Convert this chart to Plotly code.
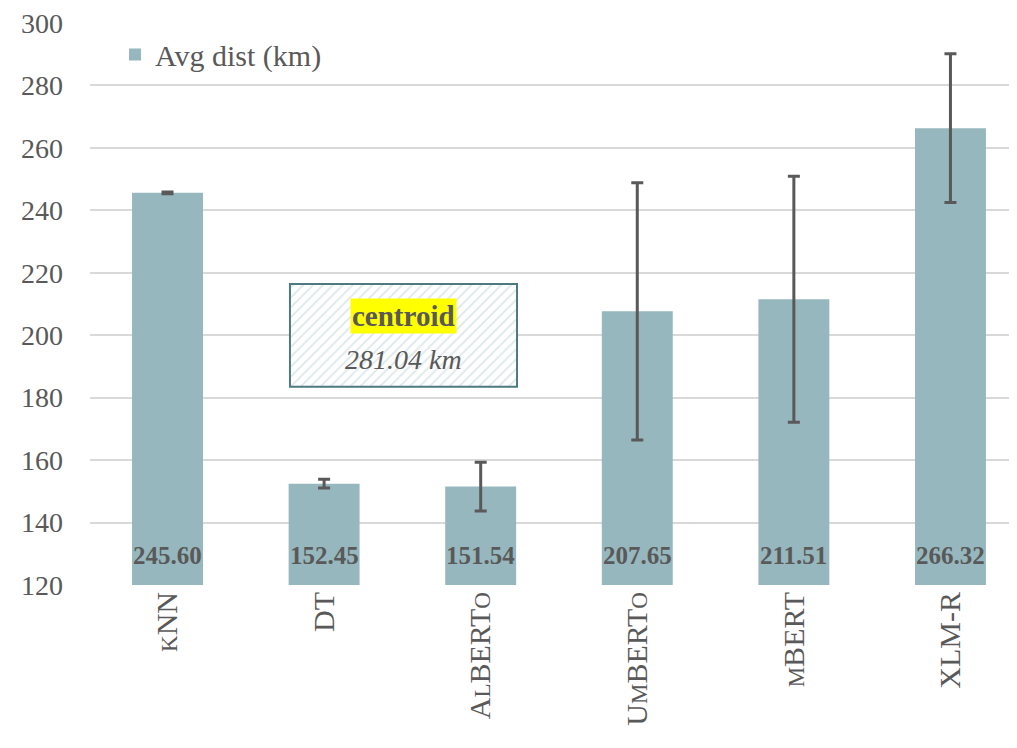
import plotly.graph_objects as go

categories = ["kNN", "DT", "AlBERTo", "UmBERTo", "mBERT", "XLM-R"]
SC = "<span style='font-size:23px'>{}</span>"
tick_labels = [
    SC.format("K") + "NN",
    "DT",
    "A" + SC.format("L") + "BERT" + SC.format("O"),
    "U" + SC.format("M") + "BERT" + SC.format("O"),
    SC.format("M") + "BERT",
    "XLM-R",
]
avg_dist = [245.60, 152.45, 151.54, 207.65, 211.51, 266.32]
err = [0.3, 1.4, 7.8, 41.2, 39.4, 23.8]
value_labels = ["245.60", "152.45", "151.54", "207.65", "211.51", "266.32"]
axis_min = 120

centroid_label = "centroid"
centroid_value = "281.04 km"

GREY = "#595959"
BAR = "#96b7bd"
FONT = "Liberation Serif"

x_idx = list(range(len(categories)))

fig = go.Figure()

# callout box (hatched) drawn behind
fig.add_trace(go.Bar(
    x=[1.507], y=[32.9], base=[183.5], width=[1.45],
    marker=dict(color="white",
                pattern=dict(shape="/", fgcolor="#b9cfd4", bgcolor="white", size=7, solidity=0.25),
                line=dict(color="#4d7a80", width=2)),
    showlegend=False, hoverinfo="skip",
))

fig.add_trace(go.Bar(
    x=x_idx, y=avg_dist, width=0.453,
    name="Avg dist (km)",
    marker=dict(color=BAR, line=dict(width=0)),
    error_y=dict(type="data", array=err, visible=True, color=GREY, thickness=3, width=6),
    hoverinfo="x+y",
))

for xi, lab in zip(x_idx, value_labels):
    fig.add_annotation(x=xi, y=axis_min, xref="x", yref="y", text="<b>" + lab + "</b>",
                       showarrow=False, yanchor="bottom", yshift=14,
                       font=dict(family=FONT, size=25, color=GREY))

fig.add_annotation(x=1.507, y=206.2, xref="x", yref="y",
                   text="<b>" + centroid_label + "</b>", showarrow=False,
                   font=dict(family=FONT, size=29, color=GREY),
                   bgcolor="#ffff00", borderpad=1)
fig.add_annotation(x=1.507, y=192.3, xref="x", yref="y",
                   text="<i>" + centroid_value + "</i>", showarrow=False,
                   font=dict(family=FONT, size=28, color=GREY))

fig.update_layout(
    width=1009, height=740,
    margin=dict(l=82, r=0, t=13, b=163),
    paper_bgcolor="white", plot_bgcolor="white",
    barmode="overlay",
    font=dict(family=FONT, color=GREY),
    legend=dict(x=0.027, y=0.99, xanchor="left", yanchor="top",
                font=dict(family=FONT, size=30, color=GREY),
                bgcolor="rgba(0,0,0,0)"),
    xaxis=dict(range=[-0.495, 5.425], tickmode="array", tickvals=x_idx, ticktext=tick_labels,
               tickangle=-90, tickfont=dict(family=FONT, size=30, color=GREY),
               showgrid=False, zeroline=False, showline=False, ticks=""),
    yaxis=dict(range=[120, 300], dtick=20, tick0=120,
               tickfont=dict(family=FONT, size=28, color=GREY),
               showgrid=True, gridcolor="#d9d9d9", gridwidth=1.5,
               zeroline=False, showline=False, ticks="", ticklabelstandoff=26,
               ticklabeloverflow="allow"),
)

fig.write_html("out.html")
